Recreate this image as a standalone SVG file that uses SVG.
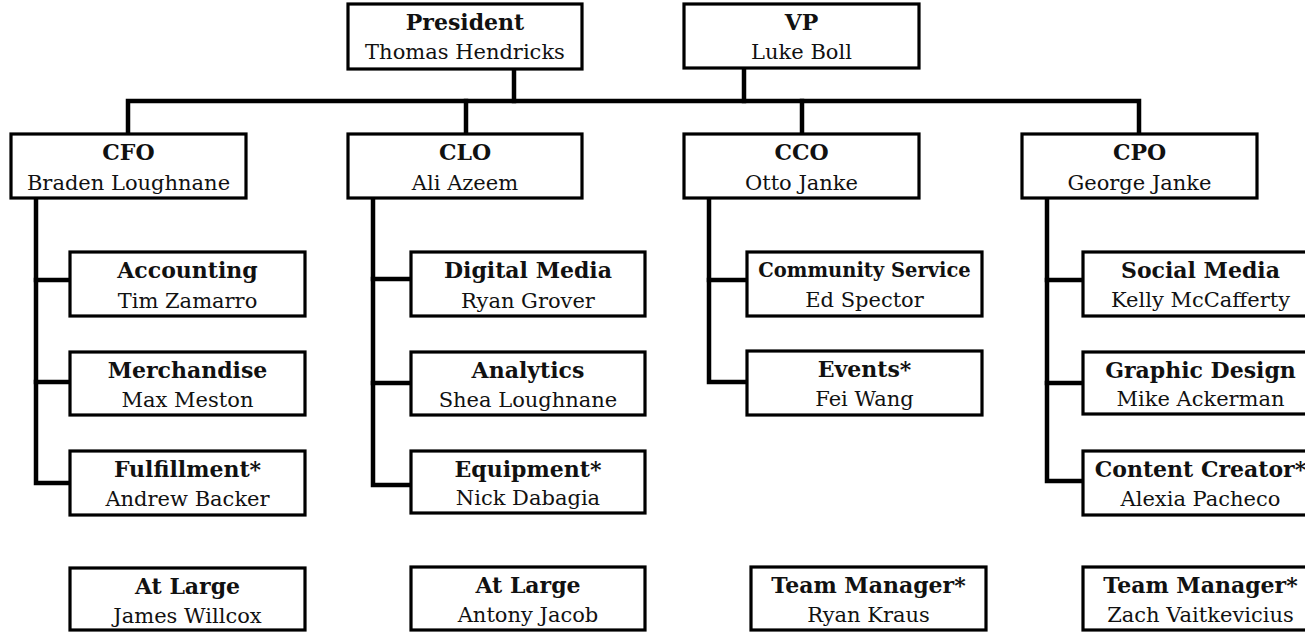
<svg xmlns="http://www.w3.org/2000/svg" width="1305" height="632" viewBox="0 0 1305 632">
<style>
.box{fill:#fff;stroke:#000;stroke-width:3.2}
.ln{fill:none;stroke:#000;stroke-width:4.5;stroke-linejoin:miter;stroke-linecap:square}
.t{font-family:"DejaVu Serif","Liberation Serif",serif;font-weight:bold;font-size:22px;fill:#111;text-anchor:middle}
.n{font-family:"DejaVu Serif","Liberation Serif",serif;font-size:21px;fill:#111;text-anchor:middle}
</style>
<rect width="1305" height="632" fill="#fff"/>
<g id="connectors">
<path class="ln" d="M514,69 V101"/>
<path class="ln" d="M744,68 V101"/>
<path class="ln" d="M128,134 V101 H1139 V134"/>
<path class="ln" d="M466,101 V134"/>
<path class="ln" d="M802,101 V134"/>
<path class="ln" d="M36,198 V483 H70"/>
<path class="ln" d="M36,280 H70 M36,382 H70"/>
<path class="ln" d="M373,198 V485 H411"/>
<path class="ln" d="M373,279 H411 M373,383 H411"/>
<path class="ln" d="M709,198 V382 H747"/>
<path class="ln" d="M709,280 H747"/>
<path class="ln" d="M1047,198 V481 H1083"/>
<path class="ln" d="M1047,280 H1083 M1047,383 H1083"/>
</g>
<g id="president"><rect class="box" x="348" y="4" width="234" height="65"/><text class="t" x="465" y="30">President</text><text class="n" x="465" y="59">Thomas Hendricks</text></g>
<g id="vp"><rect class="box" x="684" y="4" width="235" height="64"/><text class="t" x="801.5" y="30">VP</text><text class="n" x="801.5" y="59">Luke Boll</text></g>
<g id="cfo"><rect class="box" x="11" y="134" width="235" height="64"/><text class="t" x="128.5" y="160">CFO</text><text class="n" x="128.5" y="190">Braden Loughnane</text></g>
<g id="clo"><rect class="box" x="348" y="134" width="234" height="64"/><text class="t" x="465" y="160">CLO</text><text class="n" x="465" y="190">Ali Azeem</text></g>
<g id="cco"><rect class="box" x="684" y="134" width="235" height="64"/><text class="t" x="801.5" y="160">CCO</text><text class="n" x="801.5" y="190">Otto Janke</text></g>
<g id="cpo"><rect class="box" x="1022" y="134" width="235" height="64"/><text class="t" x="1139.5" y="160">CPO</text><text class="n" x="1139.5" y="190">George Janke</text></g>
<g id="accounting"><rect class="box" x="70" y="252" width="235" height="64"/><text class="t" x="187.5" y="278">Accounting</text><text class="n" x="187.5" y="308">Tim Zamarro</text></g>
<g id="merchandise"><rect class="box" x="70" y="352" width="235" height="63"/><text class="t" x="187.5" y="378">Merchandise</text><text class="n" x="187.5" y="407">Max Meston</text></g>
<g id="fulfillment"><rect class="box" x="70" y="451" width="235" height="64"/><text class="t" x="187.5" y="477">Fulfillment*</text><text class="n" x="187.5" y="506">Andrew Backer</text></g>
<g id="atlarge1"><rect class="box" x="70" y="568" width="235" height="62"/><text class="t" x="187.5" y="594">At Large</text><text class="n" x="187.5" y="623">James Willcox</text></g>
<g id="digitalmedia"><rect class="box" x="411" y="252" width="234" height="64"/><text class="t" x="528" y="278">Digital Media</text><text class="n" x="528" y="308">Ryan Grover</text></g>
<g id="analytics"><rect class="box" x="411" y="352" width="234" height="63"/><text class="t" x="528" y="378">Analytics</text><text class="n" x="528" y="407">Shea Loughnane</text></g>
<g id="equipment"><rect class="box" x="411" y="451" width="234" height="62"/><text class="t" x="528" y="477">Equipment*</text><text class="n" x="528" y="505">Nick Dabagia</text></g>
<g id="atlarge2"><rect class="box" x="411" y="567" width="234" height="63"/><text class="t" x="528" y="593">At Large</text><text class="n" x="528" y="622">Antony Jacob</text></g>
<g id="community"><rect class="box" x="747" y="252" width="235" height="64"/><text class="t" x="864.5" y="277" style="font-size:19.5px">Community Service</text><text class="n" x="864.5" y="307">Ed Spector</text></g>
<g id="events"><rect class="box" x="747" y="351" width="235" height="64"/><text class="t" x="864.5" y="377">Events*</text><text class="n" x="864.5" y="406">Fei Wang</text></g>
<g id="teammanager1"><rect class="box" x="751" y="567" width="235" height="63"/><text class="t" x="868.5" y="593">Team Manager*</text><text class="n" x="868.5" y="622">Ryan Kraus</text></g>
<g id="socialmedia"><rect class="box" x="1083" y="252" width="235" height="64"/><text class="t" x="1200.5" y="278">Social Media</text><text class="n" x="1200.5" y="307">Kelly McCafferty</text></g>
<g id="graphicdesign"><rect class="box" x="1083" y="352" width="235" height="62"/><text class="t" x="1200.5" y="378">Graphic Design</text><text class="n" x="1200.5" y="406">Mike Ackerman</text></g>
<g id="contentcreator"><rect class="box" x="1083" y="451" width="235" height="64"/><text class="t" x="1200.5" y="477">Content Creator*</text><text class="n" x="1200.5" y="506">Alexia Pacheco</text></g>
<g id="teammanager2"><rect class="box" x="1083" y="567" width="235" height="63"/><text class="t" x="1200.5" y="593">Team Manager*</text><text class="n" x="1200.5" y="622">Zach Vaitkevicius</text></g>
</svg>
